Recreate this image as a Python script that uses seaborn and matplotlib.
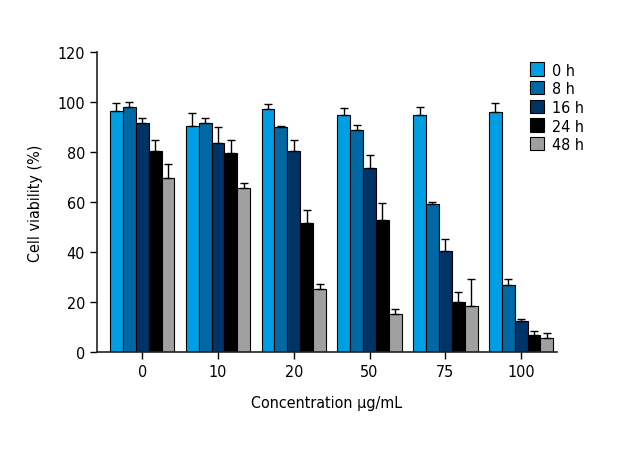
"""Cell viability over time at different concentrations."""

import numpy as np
import pandas as pd
import matplotlib
matplotlib.use("Agg")
import matplotlib.pyplot as plt
import seaborn as sns

concentrations = ["0", "10", "20", "50", "75", "100"]
times = ["0 h", "8 h", "16 h", "24 h", "48 h"]

# mean viability (%) per time point, one value per concentration
viability = {
    "0 h": [96.4, 90.3, 97.2, 94.7, 94.9, 96.0],
    "8 h": [98.1, 91.6, 89.9, 88.9, 59.3, 26.7],
    "16 h": [91.7, 83.6, 80.5, 73.6, 40.5, 12.3],
    "24 h": [80.3, 79.5, 51.6, 52.9, 19.9, 6.8],
    "48 h": [69.5, 65.6, 25.1, 15.1, 18.3, 5.7],
}
# standard deviation, drawn upward only
errors = {
    "0 h": [3.2, 5.3, 1.9, 2.9, 3.0, 3.7],
    "8 h": [1.7, 2.1, 0.6, 1.9, 0.8, 2.6],
    "16 h": [1.8, 6.3, 4.4, 5.3, 4.8, 0.8],
    "24 h": [4.4, 5.2, 5.0, 6.8, 4.2, 1.6],
    "48 h": [5.5, 1.9, 2.1, 2.2, 10.8, 1.8],
}
colors = ["#009fe3", "#0068a5", "#003366", "#000000", "#a0a0a0"]

rows = []
for t in times:
    for c, v in zip(concentrations, viability[t]):
        rows.append({"Concentration": c, "Time": t, "Viability": v})
df = pd.DataFrame(rows)

sns.set_style("ticks")
plt.rcParams["font.family"] = ["DejaVu Sans"]
plt.rcParams["font.stretch"] = "condensed"
plt.rcParams["text.color"] = "black"
plt.rcParams["axes.labelcolor"] = "black"

fig = plt.figure(figsize=(6.2, 4.6), dpi=100)
ax = fig.add_axes([0.156, 0.233, 0.742, 0.652])

sns.barplot(data=df, x="Concentration", y="Viability", hue="Time",
            order=concentrations, hue_order=times, palette=colors,
            errorbar=None, width=0.85, edgecolor="black", linewidth=0.8,
            saturation=1, ax=ax)

for container, t in zip(ax.containers, times):
    xs = [p.get_x() + p.get_width() / 2 for p in container.patches]
    ys = [p.get_height() for p in container.patches]
    err = np.array(errors[t])
    ax.errorbar(xs, ys, yerr=[np.zeros_like(err), err], fmt="none",
                ecolor="black", elinewidth=1.0, capsize=3, capthick=1.0)

ax.set_ylim(0, 120)
ax.set_yticks(range(0, 121, 20))
ax.set_xlim(-0.6, 5.47)
ax.set_xlabel("Concentration μg/mL", fontsize=11.5, labelpad=12)
ax.set_ylabel("Cell viability (%)", fontsize=11.5, labelpad=10)
ax.tick_params(axis="both", labelsize=11.5, length=5, width=1,
               colors="black", labelcolor="black")
for side in ["left", "bottom"]:
    ax.spines[side].set_linewidth(1.2)
    ax.spines[side].set_color("#222222")
sns.despine(ax=ax)

handles, labels = ax.get_legend_handles_labels()
ax.legend(handles, labels, loc="upper left", bbox_to_anchor=(0.855, 0.862),
          bbox_transform=fig.transFigure, frameon=False, fontsize=11.5,
          handlelength=0.9, handleheight=0.9, handletextpad=0.45,
          labelspacing=0.22, borderaxespad=0, borderpad=0)

fig.savefig("out.png", dpi=100)
